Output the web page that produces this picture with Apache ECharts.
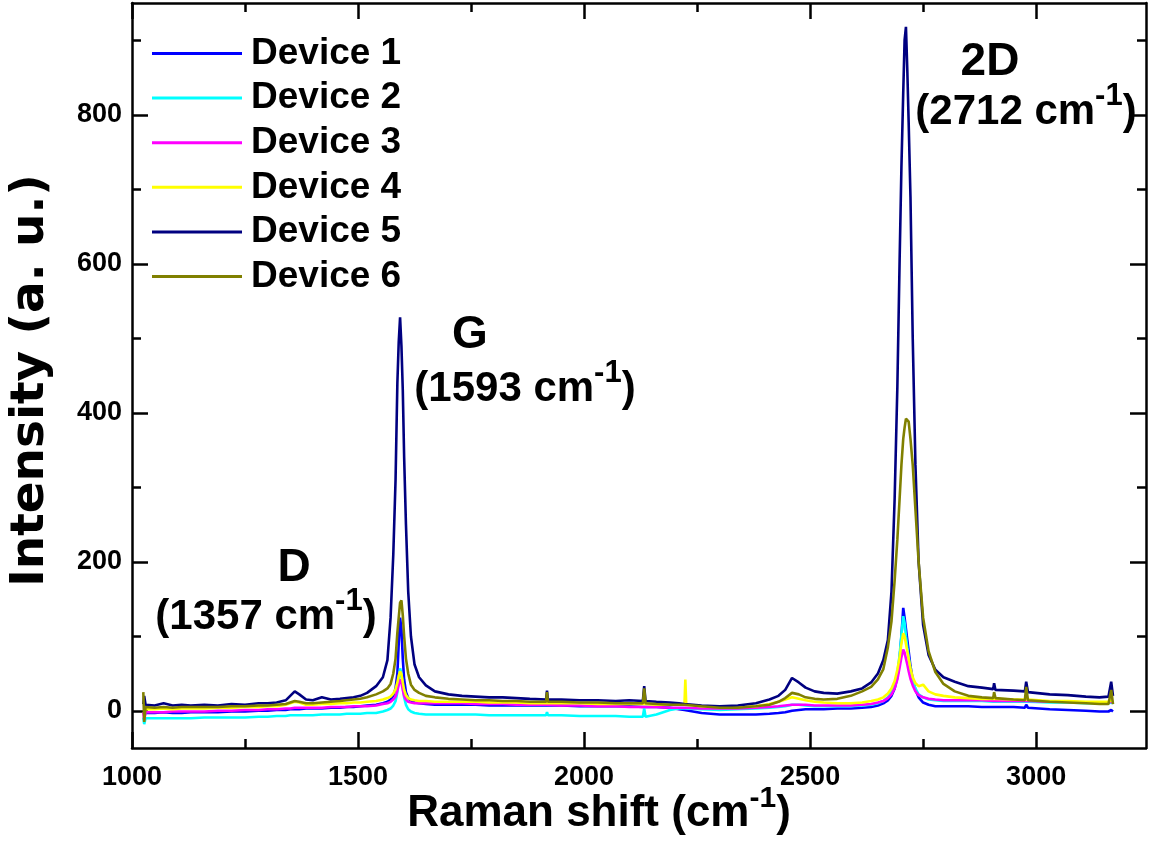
<!DOCTYPE html>
<html><head><meta charset="utf-8">
<script src="https://cdn.jsdelivr.net/npm/echarts@6/dist/echarts.min.js"></script>
<style>html,body{margin:0;padding:0;background:#fff}#c{width:1149px;height:841px}</style>
</head><body><div id="c"></div>
<script>
// Raman shift (cm-1) sample positions
const ramanShift = [
 1025,1027,1030,1050,1070,1090,1110,1130,1160,1190,1220,1250,1280,1300,1320,1340,1350,1360,1370,1385,1400,1420,1440,1460,1475,1490,1505,1520,1540,
 1555,1565,1572,1578,1583,1587,1590,1593,1596,1599,1602,1606,1611,1617,1625,1635,1650,1670,
 1700,1730,1760,1790,1820,1850,1880,1916,1918,1920,1950,1990,2030,2070,2100,2130,2133,2136,2160,2190,2210,2222,2224,2226,2260,2300,2340,2380,2410,2430,2445,2460,2475,2490,2510,2530,2560,
 2590,2615,2635,2650,2662,2672,2680,2687,2693,2698,2702,2706,2709,2712,2715,2718,2722,2727,2733,2740,2750,2762,2777,2795,2820,
 2850,2880,2905,2907,2910,2950,2975,2978,2982,3030,3070,3110,3140,3160,3166,3170
];
const device1 = [
 -3,-4,-3,-3,-2,-3,-3,-2,-2,-2,-1,-1,0,0,1,1,2,2,2,3,3,3,4,4,5,5,6,7,8,
 10,12,15,20,30,50,90,125,110,70,42,25,17,13,11,10,9,8,
 8,8,8,7,7,7,7,7,8,7,7,6,6,6,6,5,6,5,5,4,2,1,1,0,-3,-5,-5,-5,-4,-3,-2,0,1,2,2,2,3,
 3,4,5,7,10,14,20,30,45,70,100,138,125,110,95,80,60,42,28,18,11,8,6,6,6,
 6,5,5,5,5,5,4,8,4,2,1,0,-1,-1,1,-1
];
const device2 = [
 -9,-18,-10,-10,-10,-10,-10,-10,-9,-9,-9,-9,-8,-8,-7,-7,-6,-6,-6,-6,-6,-5,-5,-5,-4,-4,-4,-3,-3,
 -1,1,3,7,13,25,42,57,50,32,18,8,2,-1,-3,-4,-5,-5,
 -5,-5,-5,-6,-6,-6,-6,-6,-2,-6,-6,-7,-7,-7,-8,-8,3,-8,-5,1,3,3,3,3,2,1,2,3,4,5,6,8,8,7,6,6,6,
 6,7,8,10,13,18,25,35,50,75,102,127,118,100,85,72,55,40,30,22,18,15,14,13,13,
 13,13,12,12,12,12,12,13,12,11,11,10,10,10,11,10
];
const device3 = [
 -2,-12,-2,-2,-2,-1,-1,-1,-1,0,0,1,1,2,2,3,3,4,4,4,4,4,5,5,5,6,6,6,7,
 9,10,12,15,19,27,35,42,38,28,20,15,12,11,10,10,10,10,
 10,10,9,9,9,8,8,8,8,8,7,7,6,6,5,5,5,5,5,4,4,4,4,4,3,3,3,4,5,6,7,8,8,8,7,7,7,
 7,8,9,11,13,17,22,30,42,58,72,82,78,70,62,53,43,34,26,21,18,16,15,14,14,
 14,14,13,13,13,13,13,13,13,12,12,11,11,11,12,11
];
const device4 = [
 2,1,2,2,3,2,3,3,3,4,4,5,5,6,6,8,10,12,11,8,8,9,9,10,10,11,11,12,13,
 15,17,19,23,29,38,47,53,49,38,28,21,17,15,14,13,13,12,
 12,12,12,11,11,11,10,10,10,10,10,10,9,9,9,9,9,9,8,8,8,8,42,8,6,5,5,6,9,12,15,18,16,14,12,11,10,
 10,11,13,15,18,23,30,40,55,72,90,104,100,90,80,70,57,45,37,33,35,26,22,20,18,
 17,16,16,16,16,15,15,15,15,13,13,12,12,12,14,12
];
const device5 = [
 9,20,8,7,10,7,8,7,8,7,9,8,10,10,11,14,20,26,22,15,14,18,15,16,17,18,20,24,33,
 45,68,125,210,310,440,495,528,490,430,340,250,160,100,62,45,34,26,
 22,20,19,18,18,17,16,15,27,15,15,14,14,13,14,13,33,13,12,11,10,9,9,9,7,6,7,10,15,20,28,44,38,31,26,24,23,
 26,30,38,50,68,95,160,285,435,605,730,830,900,918,860,790,690,500,330,200,115,75,55,45,39,
 33,31,29,37,28,27,26,39,25,22,21,19,18,19,39,20
];
const device6 = [
 25,-15,5,4,5,4,5,5,5,5,6,6,7,7,8,9,11,13,12,10,10,11,12,13,14,15,16,18,22,
 26,30,36,50,70,105,125,145,148,128,100,70,50,35,28,24,20,18,
 16,15,14,14,13,13,12,12,25,12,12,11,11,10,10,10,30,10,9,8,8,8,8,8,6,4,4,6,8,12,17,24,22,18,16,15,16,
 20,26,32,42,56,85,120,175,230,285,330,365,380,392,394,388,365,330,270,200,125,80,52,36,26,
 20,18,17,25,17,15,14,32,14,12,11,10,9,9,28,9
];
const seriesNames = ['Device 1','Device 2','Device 3','Device 4','Device 5','Device 6'];
const seriesValues = [device1, device2, device3, device4, device5, device6];
const seriesColors = ['#0000FF','#00FFFF','#FF00FF','#FFFF00','#000080','#808000'];
const xMajorTicks = [1000,1500,2000,2500,3000];
const xMinorTicks = [1250,1750,2250,2750];
const yMajorTicks = [0,200,400,600,800];
const yMinorTicks = [100,300,500,700,900];
const X_MIN = 1000, X_MAX = 3243, Y_MIN = -50, Y_MAX = 950;

const FONT = "'Liberation Sans', Arial, sans-serif";
const chart = echarts.init(document.getElementById('c'), null, {renderer:'canvas'});

function xAx(pos, ticks, len, showLine, extra) {
  return Object.assign({
    type:'value', position:pos, min:X_MIN, max:X_MAX,
    axisLine:{show:showLine, onZero:false, lineStyle:{color:'#000', width:2.5}},
    axisTick:{show:true, inside:true, length:len, customValues:ticks, lineStyle:{color:'#000', width:2.5}},
    axisLabel:{show:false, customValues:ticks},
    splitLine:{show:false}
  }, extra||{});
}
function yAx(pos, ticks, len, showLine, extra) {
  return Object.assign({
    type:'value', position:pos, min:Y_MIN, max:Y_MAX,
    axisLine:{show:showLine, onZero:false, lineStyle:{color:'#000', width:2.5}},
    axisTick:{show:true, inside:true, length:len, customValues:ticks, lineStyle:{color:'#000', width:2.5}},
    axisLabel:{show:false, customValues:ticks},
    splitLine:{show:false}
  }, extra||{});
}
const labelStyle = {fontSize:27, fontWeight:'bold', color:'#000', fontFamily:FONT, formatter:(v)=>String(v)};
const supRich = {
  a:{fontSize:42, fontWeight:'bold', fontFamily:FONT, fill:'#000', lineHeight:52, verticalAlign:'bottom'},
  s:{fontSize:31, fontWeight:'bold', fontFamily:FONT, fill:'#000', lineHeight:31, verticalAlign:'top'}
};

const option = {
  animation:false,
  backgroundColor:'#fff',
  grid:{left:132, right:3, top:3, bottom:93, containLabel:false, outerBoundsMode:'none'},
  legend:{
    orient:'vertical', left:152, top:35, padding:0, itemWidth:90, itemHeight:3, itemGap:7.6, icon:'rect',
    data:seriesNames,
    textStyle:{fontSize:37, fontWeight:'bold', fontFamily:FONT, color:'#000', lineHeight:36, padding:[0,0,0,4]}
  },
  xAxis:[
    xAx('bottom', xMajorTicks, 16, true, {
      axisLabel:Object.assign({show:true, customValues:xMajorTicks, margin:16}, labelStyle),
      name:'{t|Raman shift (cm}{s|-1}{t|)}', nameLocation:'middle', nameGap:36, nameMoveOverlap:false,
      nameTextStyle:{padding:[0,80,0,0], rich:{
        t:{fontSize:44, fontWeight:'bold', fontFamily:FONT, color:'#000', lineHeight:52, verticalAlign:'bottom'},
        s:{fontSize:30, fontWeight:'bold', fontFamily:FONT, color:'#000', lineHeight:30, verticalAlign:'top'}
      }}
    }),
    xAx('bottom', xMinorTicks, 9, false),
    xAx('top', xMajorTicks, 16, true),
    xAx('top', xMinorTicks, 9, false)
  ],
  yAxis:[
    yAx('left', yMajorTicks, 16, true, {
      axisLabel:Object.assign({show:true, customValues:yMajorTicks, margin:10}, labelStyle),
      name:'Intensity (a. u.)', nameLocation:'middle', nameGap:78, nameMoveOverlap:false,
      nameTextStyle:{fontSize:47, fontWeight:'bold', fontFamily:"'DejaVu Sans', sans-serif", color:'#000', padding:[0,10,0,0]}
    }),
    yAx('left', yMinorTicks, 9, false),
    yAx('right', yMajorTicks, 16, true),
    yAx('right', yMinorTicks, 9, false)
  ],
  series: seriesNames.map((name, i) => ({
    name, type:'line', symbol:'none', xAxisIndex:0, yAxisIndex:0,
    color:seriesColors[i],
    lineStyle:{width:2.6, color:seriesColors[i]},
    data: ramanShift.map((x, k) => [x, seriesValues[i][k]])
  })),
  graphic:[
    {type:'text', x:294, y:568, style:{text:'D', font:"bold 46px "+FONT, fill:'#000', align:'center', verticalAlign:'middle'}},
    {type:'text', x:266, y:612, style:{text:'{a|(1357 cm}{s|-1}{a|)}', align:'center', verticalAlign:'middle', rich:supRich}},
    {type:'text', x:470, y:335, style:{text:'G', font:"bold 46px "+FONT, fill:'#000', align:'center', verticalAlign:'middle'}},
    {type:'text', x:525, y:384, style:{text:'{a|(1593 cm}{s|-1}{a|)}', align:'center', verticalAlign:'middle', rich:supRich}},
    {type:'text', x:990, y:62, style:{text:'2D', font:"bold 46px "+FONT, fill:'#000', align:'center', verticalAlign:'middle'}},
    {type:'text', x:1026, y:107, style:{text:'{a|(2712 cm}{s|-1}{a|)}', align:'center', verticalAlign:'middle', rich:supRich}}
  ]
};
chart.setOption(option);
</script>
</body></html>
